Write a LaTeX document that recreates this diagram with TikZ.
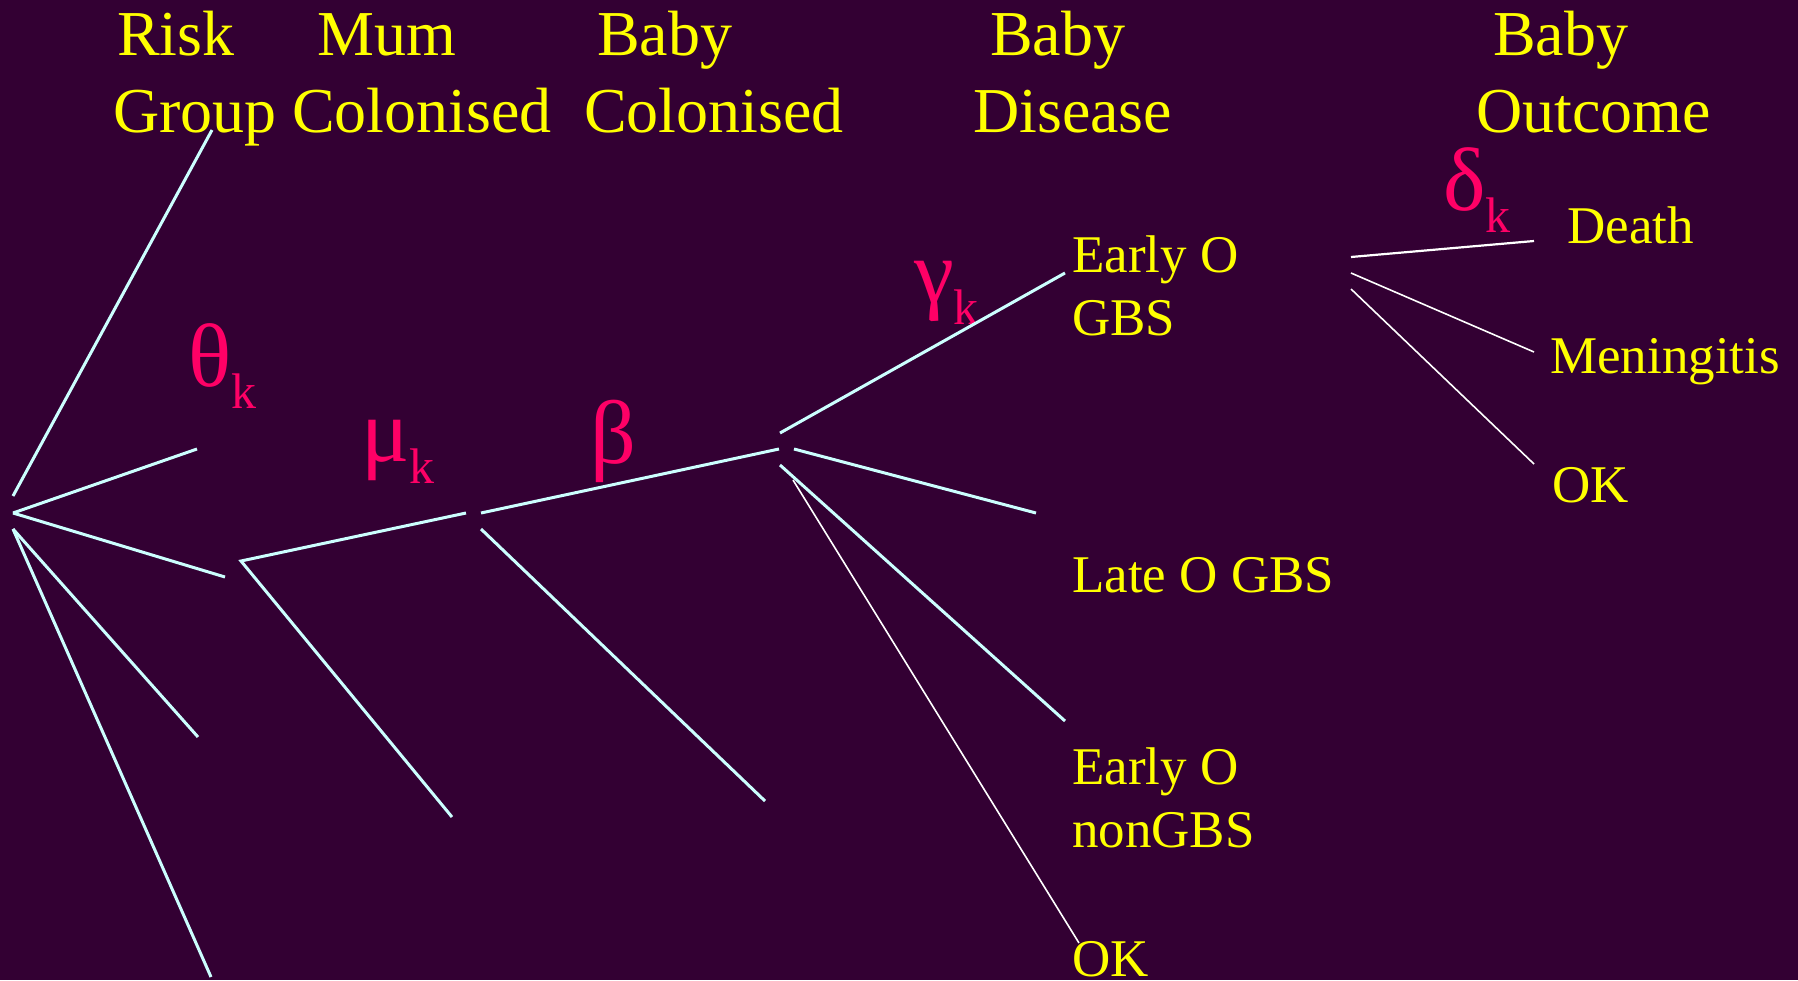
\documentclass[tikz,border=0pt]{standalone}
\usepackage{fontspec}
\setmainfont{Liberation Serif}
\definecolor{bg}{RGB}{51,0,51}
\definecolor{txt}{RGB}{255,255,0}
\definecolor{greek}{RGB}{255,0,102}
\definecolor{branch}{RGB}{204,255,255}
\newcommand{\gsub}[1]{{\fontsize{90}{90}\selectfont #1}\raisebox{-22pt}{\fontsize{50}{50}\selectfont k}}
\begin{document}
\begin{tikzpicture}[x=1pt,y=-1pt,
  head/.style={anchor=base west,inner sep=0pt,text=txt,font=\fontsize{64}{77}\selectfont},
  leaf/.style={anchor=base west,inner sep=0pt,text=txt,font=\fontsize{53}{63}\selectfont},
  par/.style={anchor=base west,inner sep=0pt,text=greek},
  br/.style={draw=branch,line width=3pt},
  thin/.style={draw=white,line width=1.6pt},
  outl/.style={draw=white,line width=2.2pt}]
\fill[bg] (0,0) rectangle (1798,980);
\useasboundingbox (0,0) rectangle (1798,980);
% headers
\node[head] (h1) at (117,55) {Risk};
\node[head] (h1b) at (113,132) {Group};
\node[head] (h2) at (317,55) {Mum};
\node[head] (h2b) at (292,132) {Colonised};
\node[head] (h3) at (597,55) {Baby};
\node[head] (h3b) at (584,132) {Colonised};
\node[head] (h4) at (990,55) {Baby};
\node[head] (h4b) at (973,132) {Disease};
\node[head] (h5) at (1493,55) {Baby};
\node[head] (h5b) at (1476,132) {Outcome};
% leaves
\node[leaf] (eogbs) at (1072,272) {\begin{tabular}[t]{@{}l@{}}Early O\\GBS\end{tabular}};
\node[leaf] (logbs) at (1072,592) {Late O GBS};
\node[leaf] (eonon) at (1072,784) {\begin{tabular}[t]{@{}l@{}}Early O\\nonGBS\end{tabular}};
\node[leaf] (okd) at (1072,976) {OK};
\node[leaf] (death) at (1567,243) {Death};
\node[leaf] (men) at (1550,373) {Meningitis};
\node[leaf] (oko) at (1552,502) {OK};
% parameters
\node[par] (theta) at (188,386) {\gsub{θ}};
\node[par] (mu) at (361,461) {\gsub{μ}};
\node[par] (beta) at (590,463) {{\fontsize{90}{90}\selectfont β}};
\node[par] (gamma) at (914,302) {\gsub{γ}};
\node[par] (delta) at (1443,210) {\gsub{δ}};
% branch points
\coordinate (r0) at (13,496);
\coordinate (r1) at (13,513);
\coordinate (r2) at (13,529);
\coordinate (rg) at (212,130);
\coordinate (a1) at (197,449);
\coordinate (a2) at (225,577);
\coordinate (a3) at (198,737);
\coordinate (a4) at (211,977);
\coordinate (m0) at (241,561);
\coordinate (m1) at (466,513);
\coordinate (m2) at (452,817);
\coordinate (b0) at (481,513);
\coordinate (b0b) at (481,529);
\coordinate (b1) at (779,449);
\coordinate (b2) at (765,801);
\coordinate (d0) at (780,433);
\coordinate (d1) at (794,449);
\coordinate (d2) at (780,465);
\coordinate (d3) at (793,480);
\coordinate (e1) at (1065,273);
\coordinate (e2) at (1036,513);
\coordinate (e3) at (1065,721);
\coordinate (e4) at (1079,943);
\coordinate (o0) at (1351,257);
\coordinate (o1) at (1351,273);
\coordinate (o2) at (1351,289);
\coordinate (f0) at (1534,241);
\coordinate (f1) at (1534,352);
\coordinate (f2) at (1534,464);
% branches
\draw[br] (r0) -- (rg);
\draw[br] (r1) -- (a1);
\draw[br] (r1) -- (a2);
\draw[br] (r2) -- (a3);
\draw[br] (r2) -- (a4);
\draw[br] (m1) -- (m0) -- (m2);
\draw[br] (b0) -- (b1);
\draw[br] (b0b) -- (b2);
\draw[br] (d0) -- (e1);
\draw[br] (d1) -- (e2);
\draw[br] (d2) -- (e3);
\draw[thin] (d3) -- (e4);
\draw[outl] (o0) -- (f0);
\draw[thin] (o1) -- (f1);
\draw[thin] (o2) -- (f2);
\end{tikzpicture}
\end{document}
